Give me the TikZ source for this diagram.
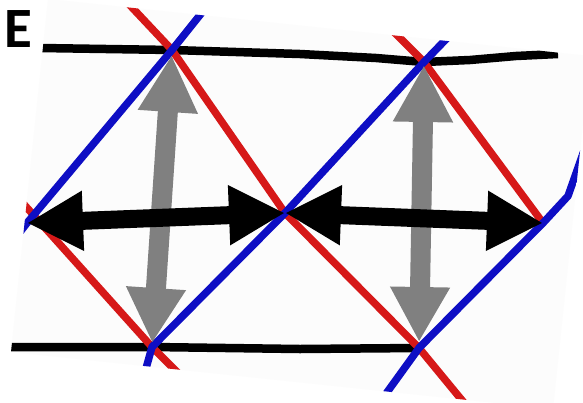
\documentclass[tikz,border=0pt]{standalone}
\usepackage{fontspec}
\setmainfont{Carlito}
\usetikzlibrary{arrows.meta}
\definecolor{panel}{RGB}{252,252,252}
\definecolor{redl}{RGB}{214,24,24}
\definecolor{bluel}{RGB}{14,14,196}
\definecolor{grayarrow}{RGB}{128,128,128}
\begin{document}
\begin{tikzpicture}[x=1pt,y=-1pt,
  blackline/.style={line width=8.5pt, black, line join=round},
  redline/.style={line width=7.5pt, redl, line join=round},
  blueline/.style={line width=7.5pt, bluel, line join=round},
  horizarrow/.style={line width=18pt, black,
    {Triangle[length=56pt,width=56pt]}-{Triangle[length=56pt,width=56pt]}},
  vertarrow/.style={line width=20pt, grayarrow,
    {Triangle[length=57pt,width=56pt]}-{Triangle[length=55pt,width=56pt]}},
  labeltext/.style={anchor=base west, inner sep=0pt, font=\bfseries\fontsize{57}{57}\selectfont}
]
\useasboundingbox (0,0) rectangle (583,402);
\fill[white] (0,0) rectangle (583,402);
\begin{scope}
\clip (0,0) rectangle (583,402);
\fill[panel] (48,-1) -- (590,56) -- (553,409) -- (11,352) -- cycle;

\coordinate (A) at (172,50);
\coordinate (B) at (424,62);
\coordinate (L) at (27,223);
\coordinate (M) at (285,213);
\coordinate (R) at (543,223);
\coordinate (C) at (152,347);
\coordinate (D) at (419,348);

\coordinate (tl) at (40,48);
\coordinate (tr) at (558,54);
\coordinate (bl) at (5,347);

\coordinate (r1a) at (125,0);
\coordinate (r1b) at (470,410);
\coordinate (r2a) at (392,30);
\coordinate (r3a) at (20,200);
\coordinate (r3b) at (185,380);

\coordinate (b1a) at (20,232);
\coordinate (b1b) at (208,5);
\coordinate (b2a) at (145,372);
\coordinate (b2b) at (455,30);
\coordinate (b3a) at (380,402);
\coordinate (b3b) at (586,145);

\begin{scope}
\clip (48,-1) -- (590,56) -- (553,409) -- (11,352) -- cycle;
% black horizontal lines
\draw[blackline] (tl) -- (A) -- (300,54) -- (376,58) -- (B) -- (470,60) -- (516,56) -- (tr);
\draw[blackline] (bl) -- (C) -- (300,349) -- (D);

% red lines
\draw[redline] (r1a) -- (A) -- (M) -- (D) -- (r1b);
\draw[redline] (r2a) -- (B) -- (R);
\draw[redline] (r3a) -- (C) -- (r3b);

% blue lines
\draw[blueline] (b1a) -- (L) -- (A) -- (b1b);
\draw[blueline] (b2a) -- (C) -- (M) -- (B) -- (b2b);
\draw[blueline] (b3a) -- (D) -- (R) -- (568,196) -- (b3b);
\end{scope}

% gray vertical arrows
\draw[vertarrow, shorten <=5pt, shorten >=4pt] (A) -- (C);
\draw[vertarrow, shorten <=3pt, shorten >=6pt] (B) -- (D);

% black horizontal arrows
\draw[horizarrow] (L) -- (M);
\draw[horizarrow] (M) -- (R);
\end{scope}

\node[labeltext] (label) at (4,47) {E};
\end{tikzpicture}
\end{document}
